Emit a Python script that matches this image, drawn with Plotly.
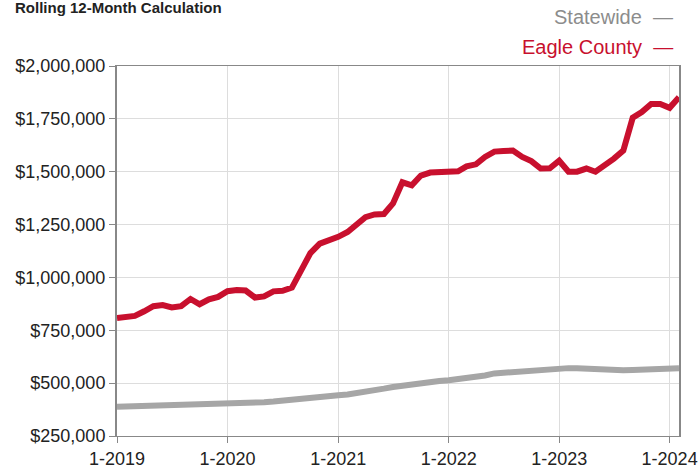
import pandas as pd
import plotly.graph_objects as go

months = pd.date_range("2019-01-01", "2024-02-01", freq="MS")

eagle_county = [
    808000, 811000, 818000, 840000, 864000, 869000, 858000, 864000, 898000, 873000, 896000, 908000,
    935000, 940000, 938000, 905000, 910000, 934000, 937000, 952000, 1030000, 1115000, 1160000, 1175000,
    1192000, 1215000, 1245000, 1285000, 1298000, 1300000, 1350000, 1450000, 1436000, 1482000, 1496000, 1500000,
    1500000, 1502000, 1525000, 1535000, 1570000, 1595000, 1598000, 1600000, 1570000, 1550000, 1515000, 1516000,
    1552000, 1500000, 1500000, 1515000, 1500000, 1530000, 1562000, 1600000, 1755000, 1782000, 1820000, 1820000,
    1802000, 1852000,
]

statewide = [
    388000, 389000, 390000, 391000, 392000, 393000, 394000, 396000, 398000, 399000, 401000, 403000,
    404000, 405000, 406000, 408000, 410000, 413000, 418000, 424000, 429000, 434000, 437000, 440000,
    443000, 446000, 451000, 458000, 466000, 474000, 482000, 489000, 494000, 500000, 505000, 510000,
    514000, 519000, 524000, 530000, 536000, 546000, 549000, 554000, 559000, 565000, 568000, 570000,
    571000, 571000, 570000, 567000, 563000, 561000, 561000, 561000, 562000, 563000, 564000, 566000,
    567000, 570000,
]

x_tick_vals = ["2019-01-01", "2020-01-01", "2021-01-01", "2022-01-01", "2023-01-01", "2024-01-01"]
x_tick_text = ["1-2019", "1-2020", "1-2021", "1-2022", "1-2023", "1-2024"]
y_tick_vals = [250000, 500000, 750000, 1000000, 1250000, 1500000, 1750000, 2000000]

RED = "#C8102E"
GRAY = "#A6A6A6"
FONT = "Liberation Sans, Arial, Helvetica, sans-serif"

fig = go.Figure()
fig.add_trace(go.Scatter(x=months, y=statewide, mode="lines", name="Statewide",
                         line=dict(color=GRAY, width=6)))
fig.add_trace(go.Scatter(x=months, y=eagle_county, mode="lines", name="Eagle County",
                         line=dict(color=RED, width=6)))

fig.update_layout(
    width=698, height=468,
    margin=dict(l=117, r=19, t=66, b=32, autoexpand=False),
    paper_bgcolor="white", plot_bgcolor="white",
    showlegend=False,
    font=dict(family=FONT, size=18, color="#222222"),
)
fig.update_xaxes(
    automargin=False,
    range=["2019-01-01", "2024-02-01"],
    tickvals=x_tick_vals, ticktext=x_tick_text,
    showgrid=True, gridcolor="#DDDDDD", gridwidth=1,
    showline=True, linecolor="#888888", linewidth=1, mirror=True,
    ticks="outside", ticklen=6, tickcolor="#888888",
    tickfont=dict(size=18, color="#222222"),
    zeroline=False,
)
fig.update_yaxes(
    automargin=False,
    range=[250000, 2000000],
    tickvals=y_tick_vals, tickformat="$,.0f",
    showgrid=True, gridcolor="#DDDDDD", gridwidth=1,
    showline=True, linecolor="#888888", linewidth=2, mirror=True,
    ticks="outside", ticklen=6, tickcolor="#888888",
    tickfont=dict(size=18, color="#222222"),
    zeroline=False,
)

fig.add_annotation(text="<b>Rolling 12-Month Calculation</b>", xref="paper", yref="paper",
                   x=-0.185, y=1.158, xanchor="left", yanchor="middle", showarrow=False,
                   font=dict(size=15, color="#222222"))
fig.add_annotation(text="Statewide  —", xref="paper", yref="paper",
                   x=0.993, y=1.132, xanchor="right", yanchor="middle", showarrow=False,
                   font=dict(size=20, color="#8C8C8C"))
fig.add_annotation(text="Eagle County  —", xref="paper", yref="paper",
                   x=0.993, y=1.051, xanchor="right", yanchor="middle", showarrow=False,
                   font=dict(size=20, color=RED))

fig.write_html("out.html", config={"displayModeBar": False},
               post_script="document.body.style.margin='0px';")
